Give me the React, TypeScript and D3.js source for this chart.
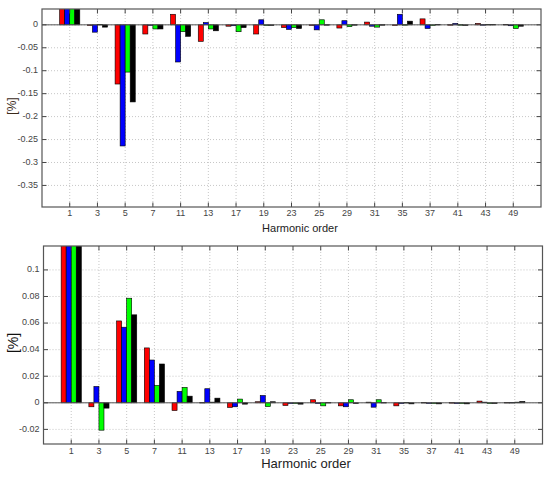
import React from "react";
import * as d3 from "d3";

const harmonics = ["1", "3", "5", "7", "11", "13", "17", "19", "23", "25", "29", "31", "35", "37", "41", "43", "49"];

const topRed = [1, -0.001, -0.129, -0.02, 0.023, -0.036, -0.003, -0.02, -0.006, -0.001, -0.007, 0.006, 0.0, 0.013, 0.0005, 0.003, 0.001];
const topBlue = [1, -0.016, -0.264, -0.001, -0.081, 0.005, -0.002, 0.011, -0.01, -0.011, 0.009, -0.003, 0.023, -0.008, 0.003, 0.0005, -0.002];
const topGreen = [1, 0.001, -0.103, -0.009, -0.015, -0.009, -0.015, -0.001, -0.006, 0.011, -0.004, -0.005, 0.0005, -0.001, 0.0005, 0.001, -0.008];
const topBlack = [1, -0.005, -0.168, -0.009, -0.025, -0.013, -0.006, -0.001, -0.008, 0.0005, 0.0005, 0.0005, 0.008, 0.001, -0.001, 0.001, -0.003];

const botRed = [1, -0.003, 0.0616, 0.0413, -0.0058, 0.0003, -0.0035, 0.0008, -0.002, 0.0023, -0.0023, 0.0005, -0.0023, 0.0003, 0.0002, 0.0013, 0.0003];
const botBlue = [1, 0.0123, 0.0569, 0.0322, 0.0086, 0.0106, -0.003, 0.0055, -0.0005, -0.0005, -0.003, -0.0033, -0.0005, -0.0003, -0.0005, 0.0005, 0.0003];
const botGreen = [1, -0.0206, 0.0787, 0.0131, 0.0116, 0.0005, 0.0028, -0.0028, -0.0005, -0.0023, 0.0023, 0.0023, 0.0003, -0.0005, -0.0005, -0.0005, 0.0005];
const botBlack = [1, -0.004, 0.0662, 0.0292, 0.005, 0.0035, -0.001, 0.0008, -0.001, 0.0003, -0.0005, 0.0003, -0.0008, -0.0008, -0.0008, -0.0005, 0.001];

const seriesColors = ["#ff0000", "#0000ff", "#00ff00", "#000000"];

const topYTicks = [0, -0.05, -0.1, -0.15, -0.2, -0.25, -0.3, -0.35];
const botYTicks = [0.1, 0.08, 0.06, 0.04, 0.02, 0, -0.02];

type PanelProps = {
  id: string;
  series: number[][];
  left: number;
  right: number;
  top: number;
  bottom: number;
  yDomain: [number, number];
  yTicks: number[];
  yLabelSize: number;
  yLabelColor: string;
  xLabelSize: number;
  xLabelY: number;
  xLabelX: number;
  tickLabelY: number;
};

function fmt(v: number) {
  if (v === 0) return "0";
  return String(v);
}

function Panel(p: PanelProps) {
  const x = d3.scaleLinear().domain([-1, harmonics.length]).range([p.left, p.right]);
  const y = d3.scaleLinear().domain(p.yDomain).range([p.bottom, p.top]);
  const n = p.series.length;
  const groupW = Math.min(0.8, n / (n + 1.5));
  const bw = groupW / n;
  const tickLen = 4.5;
  const font = "'Liberation Sans', Arial, sans-serif";
  return (
    <g>
      <defs>
        <clipPath id={p.id}>
          <rect x={p.left} y={p.top} width={p.right - p.left} height={p.bottom - p.top} />
        </clipPath>
      </defs>
      <rect x={p.left} y={p.top} width={p.right - p.left} height={p.bottom - p.top} fill="#fff" />
      {harmonics.map((h, i) => (
        <line key={"gx" + h} x1={x(i)} x2={x(i)} y1={p.top} y2={p.bottom} stroke="#b8b8b8" strokeWidth={0.8} strokeDasharray="1,2" />
      ))}
      {p.yTicks.map((t) => (
        <line key={"gy" + t} x1={p.left} x2={p.right} y1={y(t)} y2={y(t)} stroke="#b8b8b8" strokeWidth={0.8} strokeDasharray="1,2" />
      ))}
      <g clipPath={`url(#${p.id})`}>
        {p.series.map((vals, j) =>
          vals.map((v, i) => {
            const x0 = x(i - groupW / 2 + j * bw);
            const x1 = x(i - groupW / 2 + (j + 1) * bw);
            const y0 = y(Math.max(0, v));
            const y1 = y(Math.min(0, v));
            return (
              <rect key={j + "-" + i} x={x0} y={y0} width={x1 - x0} height={Math.max(0.6, y1 - y0)} fill={seriesColors[j]} stroke="#000" strokeWidth={0.6} />
            );
          })
        )}
      </g>
      <line x1={p.left} x2={p.right} y1={y(0)} y2={y(0)} stroke="#555" strokeWidth={1} />
      {harmonics.map((h, i) => (
        <g key={"tx" + h}>
          <line x1={x(i)} x2={x(i)} y1={p.bottom} y2={p.bottom - tickLen} stroke="#444" strokeWidth={1} />
          <line x1={x(i)} x2={x(i)} y1={p.top} y2={p.top + tickLen} stroke="#444" strokeWidth={1} />
          <text x={x(i)} y={p.tickLabelY} textAnchor="middle" dominantBaseline="middle" fontSize={9} fill="#444" fontFamily={font}>
            {h}
          </text>
        </g>
      ))}
      {p.yTicks.map((t) => (
        <g key={"ty" + t}>
          <line x1={p.left} x2={p.left + tickLen} y1={y(t)} y2={y(t)} stroke="#444" strokeWidth={1} />
          <line x1={p.right} x2={p.right - tickLen} y1={y(t)} y2={y(t)} stroke="#444" strokeWidth={1} />
          <text x={p.left - 4} y={y(t)} textAnchor="end" dominantBaseline="middle" fontSize={9} fill="#444" fontFamily={font}>
            {fmt(t)}
          </text>
        </g>
      ))}
      <rect x={p.left} y={p.top} width={p.right - p.left} height={p.bottom - p.top} fill="none" stroke="#555" strokeWidth={1.2} />
      <text
        transform={`translate(${p.left - 29},${(p.top + p.bottom) / 2 - 2}) rotate(-90)`}
        textAnchor="middle"
        dominantBaseline="middle"
        fontSize={p.yLabelSize}
        fill={p.yLabelColor}
        fontFamily={font}
      >
        [%]
      </text>
      <text x={p.xLabelX} y={p.xLabelY} textAnchor="middle" dominantBaseline="middle" fontSize={p.xLabelSize} fill="#222" fontFamily={font}>
        Harmonic order
      </text>
    </g>
  );
}

export default function App() {
  return (
    <div style={{ position: "absolute", left: 0, top: 0 }}>
      <svg width={550} height={479} style={{ display: "block", background: "#fff" }}>
        <Panel
          id="clipTop"
          series={[topRed, topBlue, topGreen, topBlack]}
          left={42}
          right={541}
          top={9}
          bottom={207}
          yDomain={[-0.397, 0.0345]}
          yTicks={topYTicks}
          yLabelSize={12}
          yLabelColor="#3a2a1a"
          xLabelSize={11}
          xLabelX={300}
          xLabelY={229}
          tickLabelY={214}
        />
        <Panel
          id="clipBot"
          series={[botRed, botBlue, botGreen, botBlack]}
          left={43.5}
          right={542.5}
          top={246}
          bottom={444}
          yDomain={[-0.031, 0.118]}
          yTicks={botYTicks}
          yLabelSize={14}
          yLabelColor="#111"
          xLabelSize={13}
          xLabelX={306}
          xLabelY={465}
          tickLabelY={452}
        />
      </svg>
    </div>
  );
}
